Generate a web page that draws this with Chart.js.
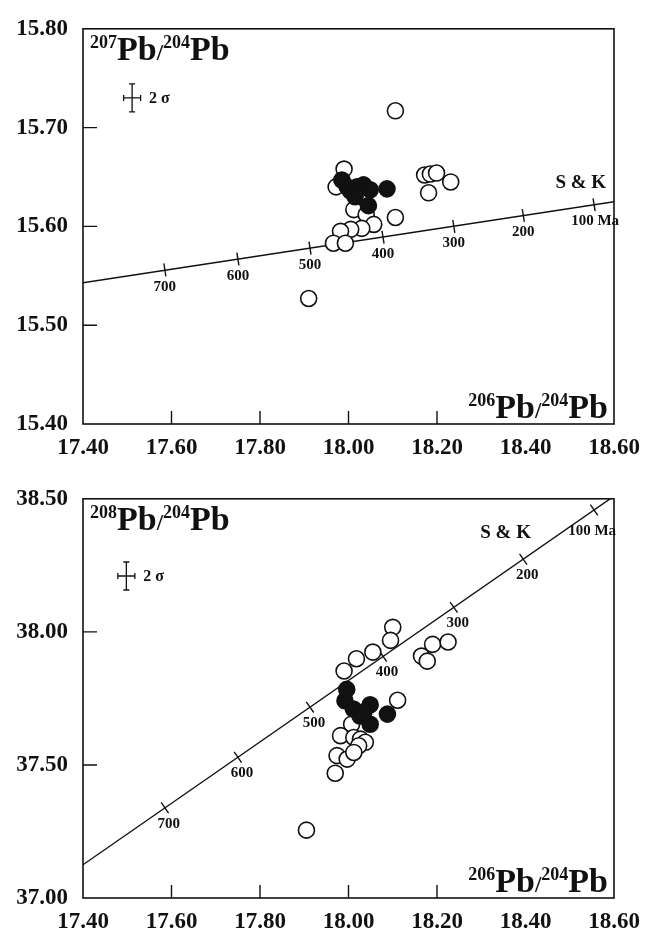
<!DOCTYPE html>
<html>
<head>
<meta charset="utf-8">
<script src="https://cdn.jsdelivr.net/npm/chart.js@4.4.0/dist/chart.umd.min.js"></script>
<style>
  html, body { margin: 0; padding: 0; background: #fff; }
  .panel { position: relative; width: 660px; }
  #panelTop { height: 470px; }
  #panelBottom { height: 465px; }
</style>
</head>
<body>
<div class="panel" id="panelTop"><canvas id="chart207"></canvas></div>
<div class="panel" id="panelBottom"><canvas id="chart208"></canvas></div>
<script>
"use strict";

// tick labels
let xTicks = [17.4, 17.6, 17.8, 18.0, 18.2, 18.4, 18.6];
let y207Ticks = [15.4, 15.5, 15.6, 15.7, 15.8];
let y208Ticks = [37.0, 37.5, 38.0, 38.5];

// open circles, 207Pb/204Pb vs 206Pb/204Pb
let open207X = [18.106, 17.990, 17.972, 18.172, 18.185, 18.199, 18.231, 18.181, 18.106,
  18.012, 18.040, 18.057, 18.030, 18.005, 17.982, 17.966, 17.993, 17.910];
let open207Y = [15.717, 15.658, 15.640, 15.652, 15.653, 15.654, 15.645, 15.634, 15.609,
  15.617, 15.612, 15.602, 15.598, 15.597, 15.595, 15.583, 15.583, 15.527];
// filled circles
let filled207X = [17.985, 17.997, 18.004, 18.019, 18.034, 18.049, 18.087, 18.045, 18.015];
let filled207Y = [15.647, 15.640, 15.636, 15.640, 15.642, 15.637, 15.638, 15.621, 15.630];

// open circles, 208Pb/204Pb vs 206Pb/204Pb
let open208X = [18.100, 18.095, 18.055, 18.018, 17.990, 18.165, 18.190, 18.225, 18.178, 18.111,
  18.007, 17.982, 18.012, 18.027, 18.038, 18.023, 17.974, 17.997, 18.012, 17.970, 17.905];
let open208Y = [38.017, 37.968, 37.924, 37.899, 37.853, 37.909, 37.953, 37.962, 37.890, 37.743,
  37.653, 37.610, 37.603, 37.597, 37.585, 37.572, 37.535, 37.522, 37.547, 37.469, 37.255];
let filled208X = [17.996, 17.992, 18.011, 18.026, 18.049, 18.049, 18.088, 18.035];
let filled208Y = [37.784, 37.741, 37.710, 37.684, 37.726, 37.653, 37.691, 37.700];

// Stacey & Kramers growth line and its age marks
let skLineX = [17.4, 18.6];
let skLine207Y = [15.543, 15.625];
let skLine208Y = [37.125, 38.510];
let skAges = ["700", "600", "500", "400", "300", "200", "100 Ma"];
let skAgeX = [17.585, 17.750, 17.913, 18.078, 18.238, 18.395, 18.555];
let skAge207Y = [15.556, 15.567, 15.578, 15.589, 15.600, 15.611, 15.622];
let skAge208Y = [37.339, 37.529, 37.717, 37.908, 38.092, 38.273, 38.458];

const SERIF = "'Liberation Serif', 'Times New Roman', serif";
const INK = "#111";

function pts(xs, ys) {
  return xs.map((x, i) => ({ x: x, y: ys[i] }));
}

// draws e.g. 207Pb/204Pb with superscript masses
function drawIso(ctx, x, y, m1, m2, align) {
  const parts = [
    [m1, "bold 18px " + SERIF, -12],
    ["Pb", "bold 34px " + SERIF, 0],
    ["/", "bold 23px " + SERIF, 0],
    [m2, "bold 18px " + SERIF, -12],
    ["Pb", "bold 34px " + SERIF, 0]
  ];
  let total = 0;
  parts.forEach(p => { ctx.font = p[1]; p.push(ctx.measureText(p[0]).width); total += p[3]; });
  let cx = align === "right" ? x - total : x;
  ctx.textAlign = "left";
  ctx.textBaseline = "alphabetic";
  parts.forEach(p => {
    ctx.font = p[1];
    ctx.fillText(p[0], cx, y + p[2]);
    cx += p[3];
  });
}

const pbNotes = {
  id: "pbNotes",
  afterDraw(chart, args, opts) {
    const ctx = chart.ctx;
    const a = chart.chartArea;
    const xs = chart.scales.x;
    const ys = chart.scales.y;
    ctx.save();
    ctx.strokeStyle = INK;
    ctx.fillStyle = INK;

    // frame
    ctx.lineWidth = 1.6;
    ctx.strokeRect(a.left, a.top, a.right - a.left, a.bottom - a.top);

    // inward ticks
    ctx.lineWidth = 1.4;
    ctx.beginPath();
    xs.ticks.forEach(t => {
      if (t.value <= xs.min || t.value >= xs.max || t.value > 18.3) return;
      const px = xs.getPixelForValue(t.value);
      ctx.moveTo(px, a.bottom);
      ctx.lineTo(px, a.bottom - 13);
    });
    ys.ticks.forEach(t => {
      if (t.value <= ys.min || t.value >= ys.max) return;
      const py = ys.getPixelForValue(t.value);
      ctx.moveTo(a.left, py);
      ctx.lineTo(a.left + 14, py);
    });
    ctx.stroke();

    // axis names inside the frame
    drawIso(ctx, a.left + 7, a.top + 31, opts.yMass, "204", "left");
    drawIso(ctx, a.right - 6, a.bottom - 6, "206", "204", "right");

    // age labels along the S & K line
    ctx.font = "bold 15px " + SERIF;
    ctx.textAlign = "center";
    ctx.textBaseline = "middle";
    skAges.forEach((lab, i) => {
      const px = xs.getPixelForValue(skAgeX[i]);
      const py = ys.getPixelForValue(opts.ageY[i]);
      const off = i === skAges.length - 1 ? opts.lastOff : opts.labOff;
      ctx.fillText(lab, px + off[0], py + off[1]);
    });

    // S & K
    ctx.font = "bold 19px " + SERIF;
    ctx.fillText("S & K", xs.getPixelForValue(opts.skPos[0]), ys.getPixelForValue(opts.skPos[1]));

    // 2 sigma cross
    const cx = xs.getPixelForValue(opts.sigma[0]);
    const cy = ys.getPixelForValue(opts.sigma[1]);
    ctx.lineWidth = 1.3;
    ctx.beginPath();
    ctx.moveTo(cx, cy - 14); ctx.lineTo(cx, cy + 14);
    ctx.moveTo(cx - 3, cy - 14); ctx.lineTo(cx + 3, cy - 14);
    ctx.moveTo(cx - 3, cy + 14); ctx.lineTo(cx + 3, cy + 14);
    ctx.moveTo(cx - 8.5, cy); ctx.lineTo(cx + 8.5, cy);
    ctx.moveTo(cx - 8.5, cy - 3); ctx.lineTo(cx - 8.5, cy + 3);
    ctx.moveTo(cx + 8.5, cy - 3); ctx.lineTo(cx + 8.5, cy + 3);
    ctx.stroke();
    ctx.font = "bold 16px " + SERIF;
    ctx.textAlign = "left";
    ctx.fillText("2 σ", cx + 17, cy + 1);
    ctx.restore();
  }
};

function makeChart(id, c) {
  return new Chart(document.getElementById(id), {
    type: "scatter",
    data: {
      datasets: [
        {
          type: "line",
          data: pts(skLineX, c.lineY),
          borderColor: INK,
          borderWidth: 1.4,
          pointRadius: 0,
          fill: false,
          order: 4
        },
        {
          data: pts(skAgeX, c.ageY),
          pointStyle: "line",
          pointRadius: 6.5,
          pointRotation: c.tickRot,
          pointBorderColor: INK,
          pointBorderWidth: 1.4,
          order: 3
        },
        {
          data: pts(c.openX, c.openY),
          pointRadius: 8,
          pointBackgroundColor: "#fff",
          pointBorderColor: INK,
          pointBorderWidth: 1.6,
          order: 2
        },
        {
          data: pts(c.filledX, c.filledY),
          pointRadius: 8,
          pointBackgroundColor: INK,
          pointBorderColor: INK,
          pointBorderWidth: 1.6,
          order: 1
        }
      ]
    },
    options: {
      responsive: true,
      maintainAspectRatio: false,
      animation: false,
      events: [],
      layout: { padding: { top: c.padTop, right: 46, left: 0, bottom: 0 } },
      plugins: {
        legend: { display: false },
        tooltip: { enabled: false },
        pbNotes: {
          yMass: c.yMass,
          ageY: c.ageY,
          labOff: c.labOff,
          lastOff: c.lastOff,
          skPos: c.skPos,
          sigma: c.sigma
        }
      },
      scales: {
        x: {
          type: "linear",
          min: 17.4,
          max: 18.6,
          afterBuildTicks: s => { s.ticks = xTicks.map(v => ({ value: v })); },
          afterFit: s => { s.height = c.xAxisH; },
          grid: { display: false, drawTicks: false },
          border: { display: false },
          ticks: {
            padding: 10,
            maxRotation: 0,
            color: INK,
            font: { family: SERIF, weight: "bold", size: 23 },
            callback: v => v.toFixed(2)
          }
        },
        y: {
          type: "linear",
          min: c.yTicks[0],
          max: c.yTicks[c.yTicks.length - 1],
          afterBuildTicks: s => { s.ticks = c.yTicks.map(v => ({ value: v })); },
          afterFit: s => { s.width = 83; },
          grid: { display: false, drawTicks: false },
          border: { display: false },
          ticks: {
            padding: 15,
            color: INK,
            font: { family: SERIF, weight: "bold", size: 23 },
            callback: v => v.toFixed(2)
          }
        }
      }
    },
    plugins: [pbNotes]
  });
}

makeChart("chart207", {
  yMass: "207",
  yTicks: y207Ticks,
  lineY: skLine207Y,
  ageY: skAge207Y,
  openX: open207X, openY: open207Y,
  filledX: filled207X, filledY: filled207Y,
  tickRot: 81,
  labOff: [0, 17],
  lastOff: [1, 16],
  skPos: [18.525, 15.644],
  sigma: [17.511, 15.730],
  padTop: 23,
  xAxisH: 46
});

makeChart("chart208", {
  yMass: "208",
  yTicks: y208Ticks,
  lineY: skLine208Y,
  ageY: skAge208Y,
  openX: open208X, openY: open208Y,
  filledX: filled208X, filledY: filled208Y,
  tickRot: 55,
  labOff: [4, 16],
  lastOff: [-2, 21],
  skPos: [18.355, 38.370],
  sigma: [17.498, 38.210],
  padTop: 27,
  xAxisH: 37
});
</script>
</body>
</html>
